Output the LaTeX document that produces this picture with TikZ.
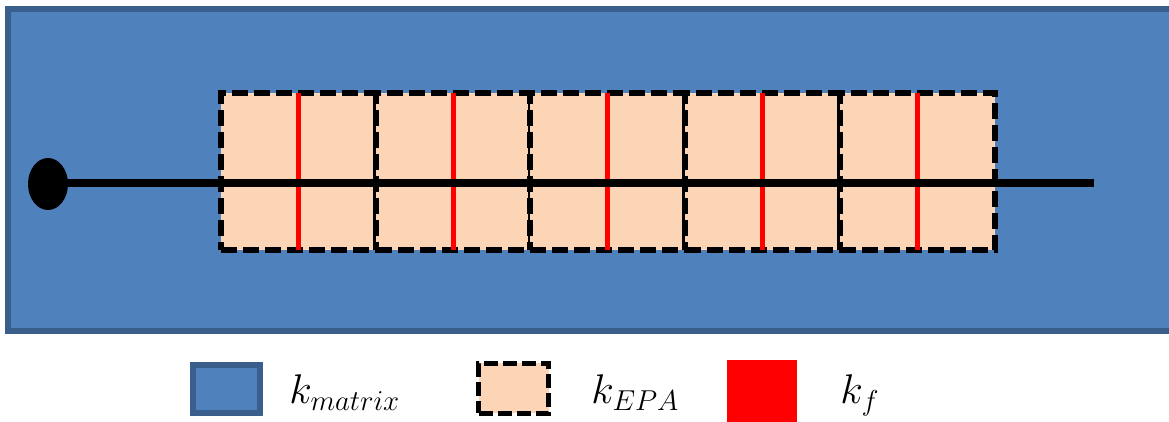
\documentclass[tikz,border=0pt]{standalone}
\usetikzlibrary{shapes.geometric}
\definecolor{matfill}{HTML}{4F81BD}
\definecolor{matdraw}{HTML}{3A5F8D}
\definecolor{epafill}{HTML}{FBD5B5}
\definecolor{fibred}{HTML}{FF0000}
\begin{document}
\begin{tikzpicture}[x=0.5pt,y=-0.5pt,
  matbox/.style={draw=matdraw,fill=matfill,line width=3pt,inner sep=0pt,outer sep=0pt},
  epabox/.style={draw=black,fill=epafill,line width=2.8pt,dash pattern=on 8pt off 3pt,inner sep=0pt,outer sep=0pt,minimum width=77.5pt,minimum height=78.5pt},
  fibre/.style={draw=fibred,line width=2.75pt},
  wire/.style={draw=black,line width=4pt},
  lbl/.style={anchor=base west,inner sep=0pt,font=\fontsize{22}{26}\selectfont}]
\useasboundingbox (0,0) rectangle (1169,422);
% matrix
\node[matbox,minimum width=592pt,minimum height=161.25pt] (mat) at (600,170.25) {};
% EPA boxes
\foreach \i/\cx in {1/298.5,2/453.5,3/607.5,4/762.5,5/917.5}{
  \node[epabox] (e\i) at (\cx,171.5) {};
}
% fibres
\foreach \i in {1,...,5}{
  \draw[fibre] (e\i.north) -- (e\i.south);
}
% wire
\node[ellipse,fill=black,minimum width=20pt,minimum height=26pt,inner sep=0pt] (dot) at (48,184) {};
\coordinate (wend) at (1094,183.5);
\draw[wire] (dot.center|-wend) -- (wend);
% legend
\node[matbox,minimum width=33.5pt,minimum height=24pt] (lm) at (226,389.5) {};
\node[lbl] (tm) at (289,404) {$k_{matrix}$};
\node[epabox,minimum width=35pt,minimum height=25pt,dash pattern=on 7pt off 2.5pt] (le) at (513.5,388.5) {};
\node[lbl] (te) at (591,404) {$k_{EPA}$};
\node[fill=fibred,minimum width=35pt,minimum height=31pt,inner sep=0pt] (lf) at (762,391) {};
\node[lbl] (tf) at (840,404) {$k_f$};
\end{tikzpicture}
\end{document}
